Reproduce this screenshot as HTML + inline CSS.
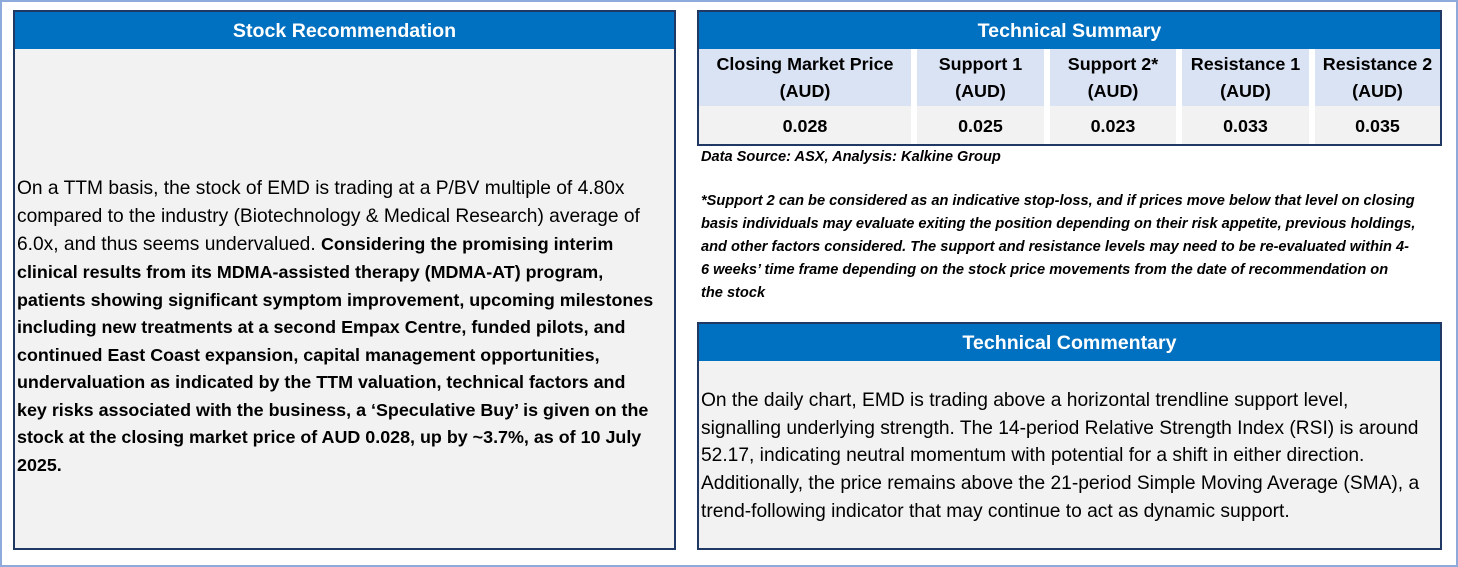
<!DOCTYPE html>
<html><head><meta charset="utf-8"><style>
*{margin:0;padding:0;box-sizing:border-box}
body{width:1458px;height:567px;background:#fff;position:relative;overflow:hidden;font-family:"Liberation Sans",sans-serif;color:#000}
.frame{position:absolute;left:0;top:0;width:1458px;height:567px;border:2px solid #8eaadb}
.box{position:absolute;border:2px solid #1f3864}
.hdr{position:absolute;left:0;right:0;top:0;height:37px;background:#0070c0;color:#fff;font-weight:bold;font-size:19.6px;text-align:center;line-height:38px}
.line{position:absolute;white-space:nowrap;font-size:19.2px}
.line b{font-size:17.9px}
.cell{position:absolute;text-align:center;font-weight:bold;font-size:17.9px}
.fn{position:absolute;left:701px;font-size:14.6px;font-style:italic;font-weight:bold;white-space:nowrap}
</style></head><body>
<div class="frame"></div>

<div class="box" style="left:13px;top:10px;width:663px;height:540px;background:#f2f2f2">
<div class="hdr">Stock Recommendation</div>
</div>
<div>
<div class="line" style="left:17px;top:178px">On a TTM basis, the stock of EMD is trading at a P/BV multiple of 4.80x</div>
<div class="line" style="left:17px;top:206px">compared to the industry (Biotechnology &amp; Medical Research) average of</div>
<div class="line" style="left:17px;top:234px">6.0x, and thus seems undervalued. <b>Considering the promising interim</b></div>
<div class="line" style="left:17px;top:262px"><b>clinical results from its MDMA-assisted therapy (MDMA-AT) program,</b></div>
<div class="line" style="left:17px;top:290px"><b>patients showing significant symptom improvement, upcoming milestones</b></div>
<div class="line" style="left:17px;top:317px"><b>including new treatments at a second Empax Centre, funded pilots, and</b></div>
<div class="line" style="left:17px;top:345px"><b>continued East Coast expansion, capital management opportunities,</b></div>
<div class="line" style="left:17px;top:372px"><b>undervaluation as indicated by the TTM valuation, technical factors and</b></div>
<div class="line" style="left:17px;top:400px"><b>key risks associated with the business, a ‘Speculative Buy’ is given on the</b></div>
<div class="line" style="left:17px;top:427px"><b>stock at the closing market price of AUD 0.028, up by ~3.7%, as of 10 July</b></div>
<div class="line" style="left:17px;top:455px"><b>2025.</b></div>
</div>

<div class="box" style="left:697px;top:10px;width:745px;height:136px;background:#fff">
<div class="hdr">Technical Summary</div>
</div>
<div>
<div class="cell" style="left:699px;top:49px;width:212px;height:57px;background:#dae3f3;line-height:27px;padding-top:2px">Closing Market Price<br>(AUD)</div>
<div class="cell" style="left:917px;top:49px;width:127px;height:57px;background:#dae3f3;line-height:27px;padding-top:2px">Support 1<br>(AUD)</div>
<div class="cell" style="left:1050px;top:49px;width:126px;height:57px;background:#dae3f3;line-height:27px;padding-top:2px">Support 2*<br>(AUD)</div>
<div class="cell" style="left:1182px;top:49px;width:127px;height:57px;background:#dae3f3;line-height:27px;padding-top:2px">Resistance 1<br>(AUD)</div>
<div class="cell" style="left:1315px;top:49px;width:125px;height:57px;background:#dae3f3;line-height:27px;padding-top:2px">Resistance 2<br>(AUD)</div>
<div class="cell" style="left:699px;top:106px;width:212px;height:38px;background:#f2f2f2;line-height:40px">0.028</div>
<div class="cell" style="left:917px;top:106px;width:127px;height:38px;background:#f2f2f2;line-height:40px">0.025</div>
<div class="cell" style="left:1050px;top:106px;width:126px;height:38px;background:#f2f2f2;line-height:40px">0.023</div>
<div class="cell" style="left:1182px;top:106px;width:127px;height:38px;background:#f2f2f2;line-height:40px">0.033</div>
<div class="cell" style="left:1315px;top:106px;width:125px;height:38px;background:#f2f2f2;line-height:40px">0.035</div>
</div>
<div class="fn" style="top:149px">Data Source: ASX, Analysis: Kalkine Group</div>
<div>
<div class="fn" style="top:193px">*Support 2 can be considered as an indicative stop-loss, and if prices move below that level on closing</div>
<div class="fn" style="top:216px">basis individuals may evaluate exiting the position depending on their risk appetite, previous holdings,</div>
<div class="fn" style="top:239px">and other factors considered. The support and resistance levels may need to be re-evaluated within 4-</div>
<div class="fn" style="top:262px">6 weeks’ time frame depending on the stock price movements from the date of recommendation on</div>
<div class="fn" style="top:285px">the stock</div>
</div>

<div class="box" style="left:697px;top:322px;width:745px;height:228px;background:#f2f2f2">
<div class="hdr">Technical Commentary</div>
</div>
<div>
<div class="line" style="left:701px;top:390px">On the daily chart, EMD is trading above a horizontal trendline support level,</div>
<div class="line" style="left:701px;top:418px">signalling underlying strength. The 14-period Relative Strength Index (RSI) is around</div>
<div class="line" style="left:701px;top:445px">52.17, indicating neutral momentum with potential for a shift in either direction.</div>
<div class="line" style="left:701px;top:473px">Additionally, the price remains above the 21-period Simple Moving Average (SMA), a</div>
<div class="line" style="left:701px;top:501px">trend-following indicator that may continue to act as dynamic support.</div>
</div>
</body></html>
